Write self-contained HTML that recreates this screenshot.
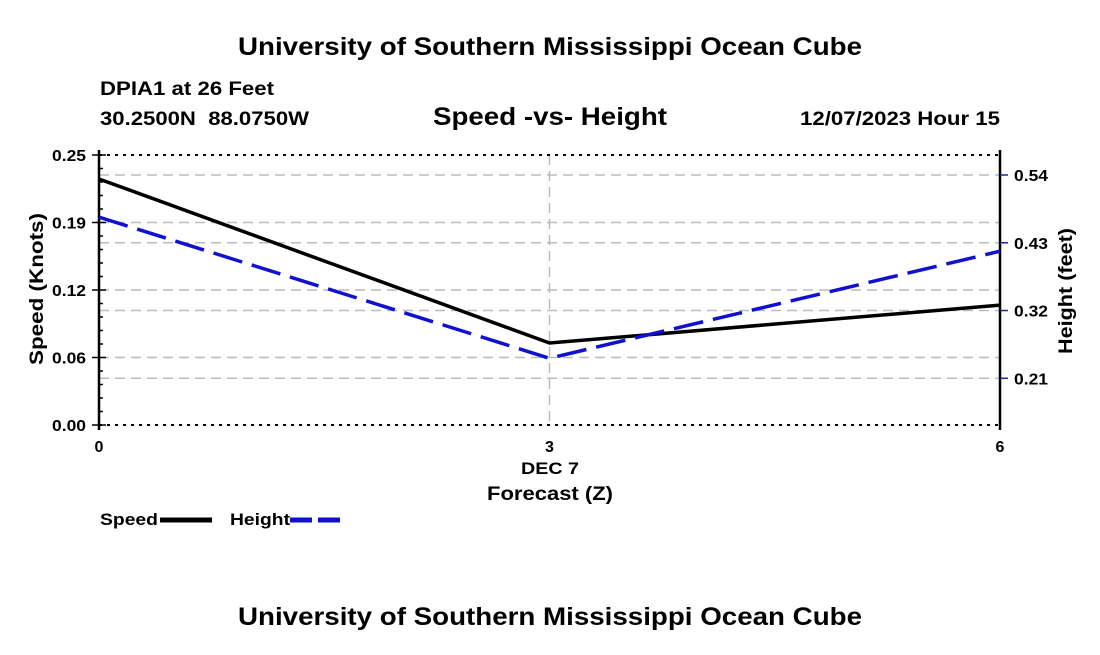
<!DOCTYPE html>
<html><head><meta charset="utf-8"><style>
body{margin:0;background:#fff;width:1100px;height:650px;overflow:hidden;font-family:"Liberation Sans",sans-serif}
svg text{font-family:"Liberation Sans",sans-serif;font-weight:bold;fill:#000}
</style></head><body>
<svg width="1100" height="650">
<text x="238" y="55" font-size="25" textLength="624" lengthAdjust="spacingAndGlyphs">University of Southern Mississippi Ocean Cube</text>
<text x="100" y="95" font-size="19" textLength="174" lengthAdjust="spacingAndGlyphs">DPIA1 at 26 Feet</text>
<text x="100" y="125" font-size="19" textLength="209" lengthAdjust="spacingAndGlyphs" xml:space="preserve">30.2500N  88.0750W</text>
<text x="433" y="125" font-size="25" textLength="234" lengthAdjust="spacingAndGlyphs">Speed -vs- Height</text>
<text x="800" y="125" font-size="19" textLength="200" lengthAdjust="spacingAndGlyphs">12/07/2023 Hour 15</text>
<g id="grid"></g>
<g id="axes"></g>
<g id="series"></g>
<text x="521" y="474" font-size="17" textLength="58" lengthAdjust="spacingAndGlyphs">DEC 7</text>
<text x="487" y="500" font-size="19" textLength="126" lengthAdjust="spacingAndGlyphs">Forecast (Z)</text>
<text transform="translate(43,289) rotate(-90)" font-size="19" text-anchor="middle" textLength="152" lengthAdjust="spacingAndGlyphs">Speed (Knots)</text>
<text transform="translate(1072,291) rotate(-90)" font-size="19" text-anchor="middle" textLength="126" lengthAdjust="spacingAndGlyphs">Height (feet)</text>
<g><text x="100" y="525" font-size="17" textLength="58" lengthAdjust="spacingAndGlyphs">Speed</text><line x1="160" y1="520" x2="212" y2="520" stroke="#000" stroke-width="5"/></g>
<g><text x="230" y="525" font-size="17" textLength="60" lengthAdjust="spacingAndGlyphs">Height</text><line x1="290" y1="520" x2="342" y2="520" stroke="#1010d0" stroke-width="5" stroke-dasharray="22,6"/></g>
<text x="238" y="625" font-size="25" textLength="624" lengthAdjust="spacingAndGlyphs">University of Southern Mississippi Ocean Cube</text>
</svg>
<script>
const hours=[0,3,6];
const xTickLabels=["0","3","6"];
const speed=[0.2278,0.0759,0.111];
const height=[0.4716,0.2425,0.4163];
const speedTicks=[0,0.0625,0.125,0.1875,0.25];
const speedTickLabels=["0.00","0.06","0.12","0.19","0.25"];
const heightTicks=[0.21,0.32,0.43,0.54];
const heightTickLabels=["0.21","0.32","0.43","0.54"];
const L=99,R=1000,T=155,B=425;
const xs=h=>L+(R-L)*h/6;
const ys=v=>B-(B-T)*v/0.25;
const yh=v=>378.3-(v-0.21)*(378.3-175)/(0.54-0.21);
const NS='http://www.w3.org/2000/svg';
function mk(p,tag,a){const e=document.createElementNS(NS,tag);for(const k in a)e.setAttribute(k,a[k]);p.appendChild(e);return e;}
const g=document.getElementById('grid'),ax=document.getElementById('axes'),s=document.getElementById('series');
speedTicks.slice(1,-1).forEach(v=>{const e=mk(g,'line',{x1:L,x2:R,y1:ys(v),y2:ys(v),stroke:'#bbb','stroke-width':1.5,'stroke-dasharray':'10,6'});
});
heightTicks.forEach(v=>{const e=mk(g,'line',{x1:L,x2:R,y1:yh(v),y2:yh(v),stroke:'#bbb','stroke-width':1.5,'stroke-dasharray':'10,6'});
});
{const e=mk(g,'line',{x1:xs(3),x2:xs(3),y1:T,y2:B,stroke:'#bbb','stroke-width':1.5,'stroke-dasharray':'10,6'});
}
[T,B].forEach(y=>{const e=mk(ax,'line',{x1:L,x2:R,y1:y,y2:y,stroke:'#000','stroke-width':2,'stroke-dasharray':'3,5'});
});
mk(ax,'line',{x1:L,x2:L,y1:T-5,y2:B+5,stroke:'#000','stroke-width':2.5});
mk(ax,'line',{x1:R,x2:R,y1:T-5,y2:B+5,stroke:'#000','stroke-width':2.5});
for(let i=0;i<=20;i++){const y=B-(B-T)*i/20;mk(ax,'line',{x1:L,x2:L+(i%5==0?7:4),y1:y,y2:y,stroke:'#000','stroke-width':1.5});}
speedTicks.forEach((v,i)=>{mk(ax,'line',{x1:L-7,x2:L,y1:ys(v),y2:ys(v),stroke:'#000','stroke-width':1.5});
const t=mk(ax,'text',{x:L-13,y:ys(v)+6,'font-size':16,'text-anchor':'end',textLength:34,lengthAdjust:'spacingAndGlyphs'});t.textContent=speedTickLabels[i];
});
heightTicks.forEach((v,i)=>{mk(ax,'line',{x1:R,x2:R+8,y1:yh(v),y2:yh(v),stroke:'#22229a','stroke-width':1.5});
const t=mk(ax,'text',{x:R+14,y:yh(v)+6,'font-size':16,textLength:34,lengthAdjust:'spacingAndGlyphs'});t.textContent=heightTickLabels[i];
});
hours.forEach((h,i)=>{const t=mk(ax,'text',{x:xs(h),y:B+27,'font-size':16,'text-anchor':'middle'});t.textContent=xTickLabels[i];
});
const sp=mk(s,'polyline',{points:hours.map((h,i)=>xs(h)+','+ys(speed[i])).join(' '),fill:'none',stroke:'#000','stroke-width':3.5});

const hl=mk(s,'polyline',{points:hours.map((h,i)=>xs(h)+','+yh(height[i])).join(' '),fill:'none',stroke:'#1010d0','stroke-width':3.5,'stroke-dasharray':'30,10'});

</script>
</body></html>
